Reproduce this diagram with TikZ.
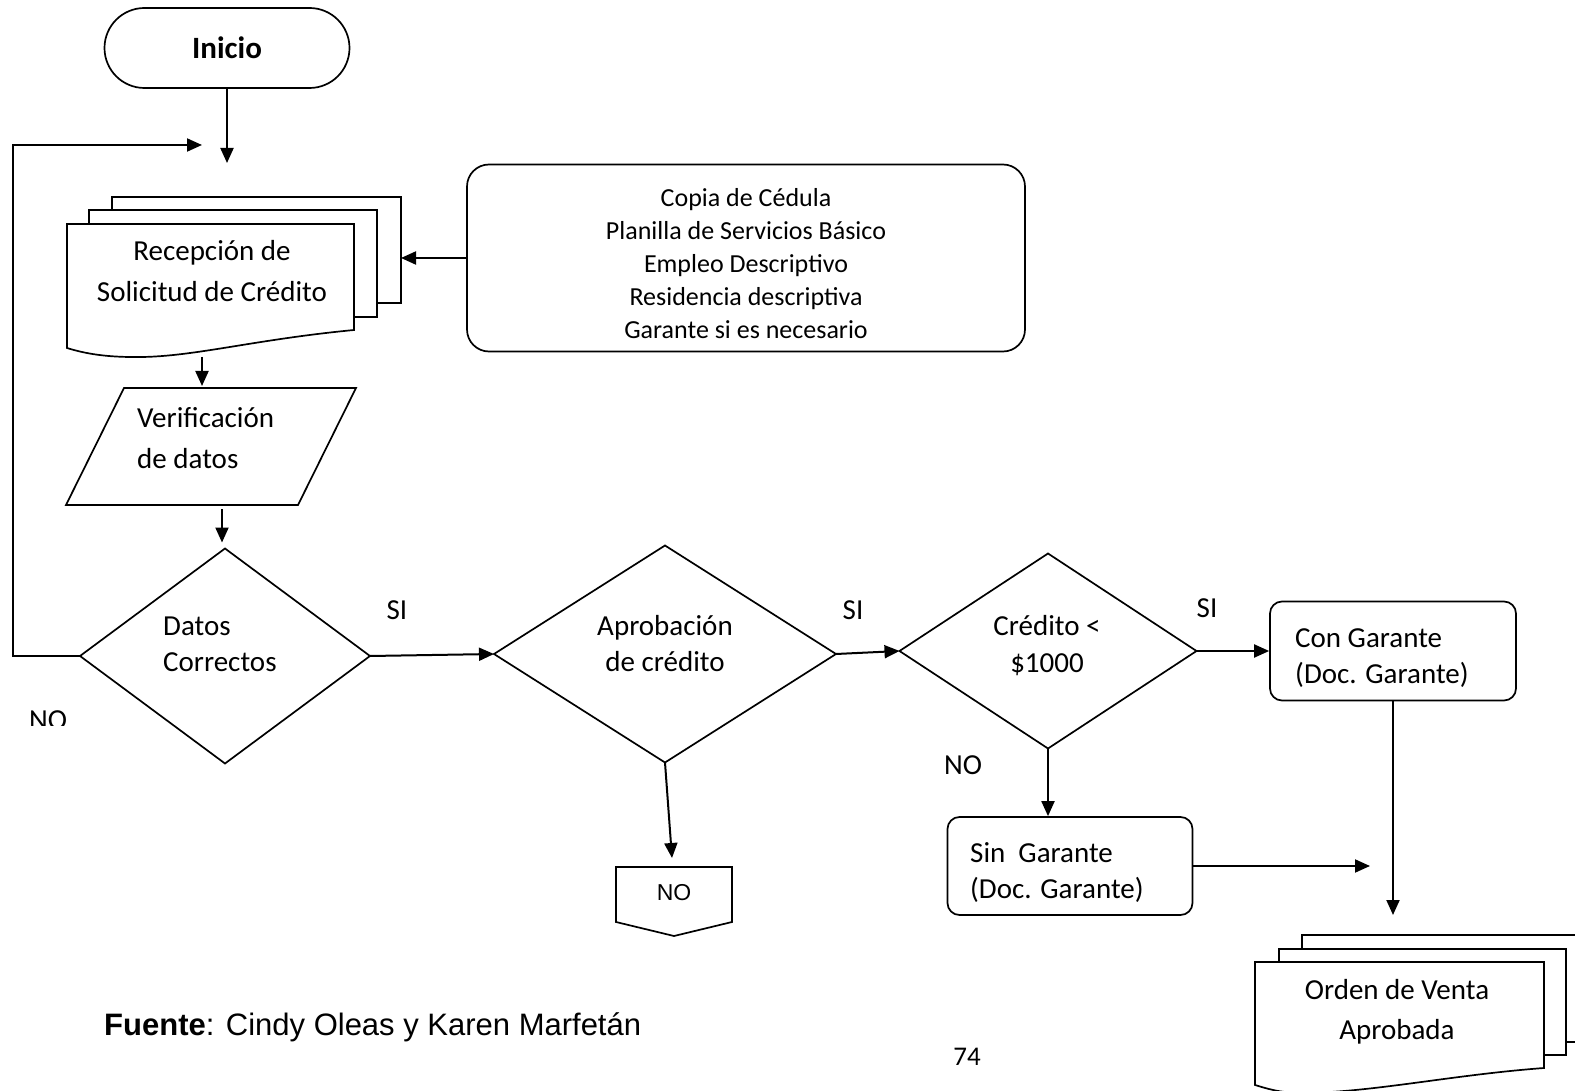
\documentclass[tikz,border=0pt]{standalone}
\usepackage{fontspec}
\setmainfont{Carlito}
\newfontfamily\arialf{Liberation Sans}
\usetikzlibrary{arrows.meta,shapes.geometric}
\begin{document}
\begin{tikzpicture}[x=1pt,y=-1pt,
  shp/.style={draw, line width=1.7pt, fill=white},
  arr/.style={line width=2pt, -{Triangle[length=15pt,width=13pt]}},
  tx/.style={font=\fontsize{29}{41}\selectfont, inner sep=0pt},
  lbl/.style={font=\fontsize{29}{35}\selectfont, inner sep=0pt}]
\useasboundingbox (0,0) rectangle (1575,1091);

% Inicio
\node[shp, rounded corners=40pt, minimum width=245pt, minimum height=80pt, inner sep=0pt,
      font=\fontsize{31}{36}\selectfont\bfseries] (inicio) at (227,48) {Inicio};
\coordinate (join) at (227,163);
\draw[arr] (inicio) -- (join);

% Recepcion multi-document
\draw[shp] (112,197) rectangle (401,303);
\draw[shp] (89,210) rectangle (377,317);
\draw[shp] (67,224) -- (354,224) -- (354,330) .. controls (250,340) and (190,358) .. (133,357)
   .. controls (100,357) and (80,352) .. (67,348) -- cycle;
\node[tx, align=center] (recep) at (212,271) {Recepción de\\Solicitud de Crédito};
\coordinate (docR) at (401,258);
\coordinate (docB) at (202,357);

% Info box
\node[shp, rounded corners=22pt, minimum width=558pt, minimum height=187pt] (info) at (746,258) {};
\node[inner sep=0pt, align=center, font=\fontsize{26}{33}\selectfont] (infot) at (746,264)
  {Copia de Cédula\\Planilla de Servicios Básico\\Empleo Descriptivo\\Residencia descriptiva\\Garante si es necesario};
\draw[arr] (info.west) -- (docR);

% Verificacion parallelogram
\draw[shp] (124,388) -- (356,388) -- (298,505) -- (66,505) -- cycle;
\coordinate (parT) at (202,388);
\coordinate (parB) at (222,505);
\node[tx, align=left, anchor=west] (verif) at (137,438) {Verificación\\de datos};
\draw[arr, shorten >=2pt] (docB) -- (parT);

% Diamonds
\node[shp, diamond, minimum width=290pt, minimum height=215pt, inner sep=0pt, outer sep=0pt] (d1) at (225,656) {};
\node[tx, align=left, anchor=west, font=\fontsize{29}{36}\selectfont] (d1t) at (163,644) {Datos\\Correctos};
\node[shp, diamond, minimum width=342pt, minimum height=217pt, inner sep=0pt, outer sep=0pt] (d2) at (665,654) {};
\node[tx, align=center, font=\fontsize{29}{36}\selectfont] (d2t) at (665,644) {Aprobación\\de crédito};
\node[shp, diamond, minimum width=297pt, minimum height=195pt, inner sep=0pt, outer sep=0pt] (d3) at (1048,651) {};
\node[tx, align=center, font=\fontsize{29}{37}\selectfont] (d3t) at (1047,646) {Crédito <\\\$1000};

\draw[arr, shorten <=4pt, shorten >=6pt] (parB) -- (parB |- d1.north);

% Con / Sin Garante
\node[shp, rounded corners=12pt, minimum width=246pt, minimum height=99pt] (con) at (1393,651) {};
\node[tx, align=left, anchor=west, font=\fontsize{29}{36}\selectfont] (cont) at (1295,658) {Con Garante\\(Doc. Garante)};
\node[shp, rounded corners=12pt, minimum width=245pt, minimum height=98pt] (sin) at (1070,866) {};
\node[tx, align=left, anchor=west, font=\fontsize{29}{36}\selectfont] (sint) at (970,873) {Sin\ \ Garante\\(Doc. Garante)};

% Off-page connector
\draw[shp] (616,867) -- (732,867) -- (732,922) -- (674,936) -- (616,922) -- cycle;
\node[inner sep=0pt, font=\arialf\fontsize{23}{28}\selectfont] (offno) at (674,893) {NO};
\coordinate (offT) at (672,858);

% Orden multi-document
\draw[shp] (1302,935) rectangle (1600,1042);
\draw[shp] (1279,949) rectangle (1566,1055);
\draw[shp] (1255,962) -- (1544,962) -- (1544,1068) .. controls (1450,1075) and (1370,1093) .. (1300,1093)
   .. controls (1280,1093) and (1265,1088) .. (1255,1085) -- cycle;
\node[tx, align=center, font=\fontsize{29}{40}\selectfont] (orden) at (1397,1012) {Orden de Venta\\Aprobada};
\coordinate (docTop2) at (1393,915);
\coordinate (sinEnd) at (1370,866);
\coordinate (loopEnd) at (202,145);

% Connectors
\draw[arr] (d1.east) -- (d2.west);
\draw[arr] (d2.east) -- (d3.west);
\draw[arr] (d3.east) -- (d3.east -| con.west);
\draw[arr] (d3.south) -- (d3.south |- sin.north);
\draw[arr] (sin.east) -- (sinEnd);
\draw[arr] (con.south) -- (docTop2);
\draw[arr] (d2.south) -- (offT);
\draw[arr] (d1.west) -- ++(-67,0) |- (loopEnd);

% Labels
\node[lbl] (si1) at (397,610) {SI};
\node[lbl] (si2) at (853,610) {SI};
\node[lbl] (si3) at (1207,608) {SI};
\node[lbl] (no3) at (963,765) {NO};
\begin{scope}
  \clip (0,690) rectangle (120,725);
  \node[lbl] (no1) at (48,720) {NO};
\end{scope}

% Footer
\node[anchor=west, inner sep=0pt, font=\arialf\fontsize{31}{36}\selectfont] (fuente) at (104,1027)
  {\textbf{Fuente}: Cindy Oleas y Karen Marfetán};
\node[inner sep=0pt, font=\fontsize{27}{30}\selectfont] (pg) at (967,1057) {74};
\end{tikzpicture}
\end{document}
